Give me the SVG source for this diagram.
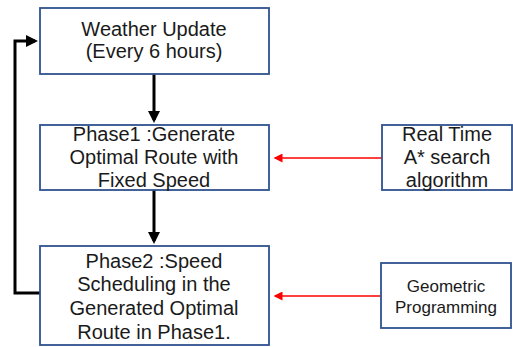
<svg xmlns="http://www.w3.org/2000/svg" width="513" height="347" viewBox="0 0 513 347">
<style>
.box{fill:#fff;stroke:#2f528f;stroke-width:1.8}
.t{font-family:"Liberation Sans",Arial,sans-serif;font-size:20px;fill:#1a1a1a;text-anchor:middle}
.s{font-size:17px}
.blk{stroke:#000;stroke-width:3;fill:none}
.red{stroke:#ff0000;stroke-width:1.5;fill:none}
</style>
<defs>
<marker id="ab" markerWidth="4" markerHeight="4" refX="3" refY="2" orient="auto" markerUnits="strokeWidth"><path d="M0,0 L4,2 L0,4 Z" fill="#000"/></marker>
<marker id="ar" markerWidth="6" markerHeight="6" refX="5" refY="3" orient="auto" markerUnits="strokeWidth"><path d="M0,0 L6,3 L0,6 Z" fill="#ff0000"/></marker>
</defs>
<g id="connectors">
<path class="blk" d="M154,74 V120" marker-end="url(#ab)"/>
<path class="blk" d="M154,190 V241" marker-end="url(#ab)"/>
<path class="blk" d="M40,293 H15 V41 H35" marker-end="url(#ab)"/>
<path class="red" d="M382,158 H275" marker-end="url(#ar)"/>
<path class="red" d="M381,296 H275" marker-end="url(#ar)"/>
</g>
<g id="weather">
<rect class="box" x="40" y="8" width="229" height="66"/>
<text class="t" x="154" y="36">Weather Update</text>
<text class="t" x="154" y="58">(Every 6 hours)</text>
</g>
<g id="phase1">
<rect class="box" x="40" y="125" width="229" height="65"/>
<text class="t" x="154" y="141">Phase1 :Generate</text>
<text class="t" x="154" y="164">Optimal Route with</text>
<text class="t" x="154" y="187">Fixed Speed</text>
</g>
<g id="phase2">
<rect class="box" x="40" y="246" width="229" height="99"/>
<text class="t" x="154" y="268">Phase2 :Speed</text>
<text class="t" x="154" y="291">Scheduling in the</text>
<text class="t" x="154" y="315">Generated Optimal</text>
<text class="t" x="154" y="339">Route in Phase1.</text>
</g>
<g id="astar">
<rect class="box" x="382" y="125" width="130" height="65"/>
<text class="t" x="447" y="141">Real Time</text>
<text class="t" x="447" y="164">A* search</text>
<text class="t" x="447" y="187">algorithm</text>
</g>
<g id="geometric">
<rect class="box" x="381" y="263" width="130" height="65"/>
<text class="t s" x="446" y="292">Geometric</text>
<text class="t s" x="446" y="313">Programming</text>
</g>
</svg>
